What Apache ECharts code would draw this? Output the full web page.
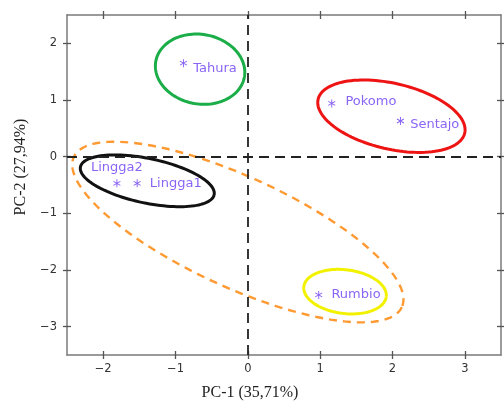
<!DOCTYPE html>
<html><head><meta charset="utf-8">
<script src="https://cdn.jsdelivr.net/npm/echarts@6/dist/echarts.min.js"></script>
<style>html,body{margin:0;padding:0;background:#fff}#c{width:504px;height:406px}</style>
</head><body><div id="c"></div>
<script>
// ---- data ----
const siteNames = ['Tahura', 'Pokomo', 'Sentajo', 'Lingga2', 'Lingga1', 'Rumbio'];
const pc1 = [-0.89, 1.16, 2.11, -1.81, -1.53, 0.98];
const pc2 = [1.65, 0.94, 0.63, -0.47, -0.47, -2.44];

const ellipseNames = ['Tahura', 'Pokomo-Sentajo', 'Lingga', 'Rumbio', 'Lingga-Rumbio'];
const ellipseCx = [-0.66, 1.985, -1.39, 1.344, -0.138];
const ellipseCy = [1.544, 0.714, -0.426, -2.382, -1.33];
const ellipseA = [0.622, 1.04, 0.944, 0.574, 2.494];   // semi-axis (PC-1 units)
const ellipseB = [0.614, 0.58, 0.393, 0.386, 0.974];   // semi-axis (PC-2 units)
const ellipseTilt = [10, 13, 11.8, 7, 24.6];           // degrees, clockwise on screen

const xTicks = [-2, -1, 0, 1, 2, 3];
const yTicks = [-3, -2, -1, 0, 1, 2];
const xTitle = 'PC-1 (35,71%)';
const yTitle = 'PC-2 (27,94%)';
const axisMin = { x: -2.5, y: -3.5 };
const axisMax = { x: 3.5, y: 2.5 };

// ---- styles ----
const ellipseStyle = [
  { color: '#1aad48', dash: null, width: 3 },
  { color: '#ee1414', dash: null, width: 3 },
  { color: '#111111', dash: null, width: 3 },
  { color: '#f2f200', dash: null, width: 3 },
  { color: '#ff9a33', dash: [8, 6], width: 2.4 }
];
const labelPlace = {
  Tahura:  { position: 'right', distance: 6, offset: [0, 5] },
  Pokomo:  { position: 'right', distance: 10, offset: [0, -2] },
  Sentajo: { position: 'right', distance: 6, offset: [0, 4] },
  Lingga2: { position: 'top', distance: 5, offset: [0, 0] },
  Lingga1: { position: 'right', distance: 9, offset: [0, 0] },
  Rumbio:  { position: 'right', distance: 9, offset: [0, 0] }
};
const pointColor = '#6b3df2';
const axisGray = '#7a7a7a';

function asteriskPath() {
  const L = 5, w = 0.6; let d = '';
  [0, 60, 120].forEach(deg => {
    const r = deg * Math.PI / 180;
    const dx = Math.sin(r), dy = -Math.cos(r), nx = Math.cos(r), ny = Math.sin(r);
    const p = [[L*dx + w*nx, L*dy + w*ny], [L*dx - w*nx, L*dy - w*ny], [-L*dx - w*nx, -L*dy - w*ny], [-L*dx + w*nx, -L*dy + w*ny]];
    d += 'M' + p.map(q => q[0].toFixed(3) + ',' + q[1].toFixed(3)).join('L') + 'Z';
  });
  return 'path://' + d;
}

const fmt = v => String(v).replace('-', '\u2212');

function xAx(position, inside, main) {
  return {
    type: 'value', position, min: axisMin.x, max: axisMax.x,
    splitLine: { show: false },
    axisLine: { show: main, onZero: false, lineStyle: { color: axisGray, width: 1.5 } },
    axisTick: { show: true, inside, length: 4, customValues: xTicks, lineStyle: { color: '#555', width: 1.3 } },
    axisLabel: { show: main && position === 'bottom', customValues: xTicks, formatter: fmt, margin: 8, color: '#333',
      fontFamily: 'DejaVu Sans', fontSize: 11.5 },
    name: (main && position === 'bottom') ? xTitle : '',
    nameLocation: 'middle', nameGap: 30,
    nameTextStyle: { fontFamily: 'Liberation Serif', fontSize: 16, color: '#222', padding: [0, 68, 0, 0] }
  };
}
function yAx(position, inside, main) {
  return {
    type: 'value', position, min: axisMin.y, max: axisMax.y,
    splitLine: { show: false },
    axisLine: { show: main, onZero: false, lineStyle: { color: axisGray, width: 1.5 } },
    axisTick: { show: true, inside, length: 4, customValues: yTicks, lineStyle: { color: '#555', width: 1.3 } },
    axisLabel: { show: main && position === 'left', customValues: yTicks, formatter: fmt, margin: 10, color: '#333',
      fontFamily: 'DejaVu Sans', fontSize: 11.5 },
    name: (main && position === 'left') ? yTitle : '',
    nameLocation: 'middle', nameGap: 37,
    nameTextStyle: { fontFamily: 'Liberation Serif', fontSize: 16, color: '#222', padding: [0, 0, 0, 36] }
  };
}

const ellipseData = ellipseNames.map((n, i) => ({
  name: n,
  value: [ellipseCx[i], ellipseCy[i], ellipseA[i], ellipseB[i], ellipseTilt[i], i]
}));

const pointData = siteNames.map((n, i) => {
  const lp = labelPlace[n];
  return {
    name: n, value: [pc1[i], pc2[i]],
    label: { show: true, position: lp.position, distance: lp.distance, offset: lp.offset }
  };
});

const chart = echarts.init(document.getElementById('c'), null, { renderer: 'canvas' });
chart.setOption({
  animation: false,
  backgroundColor: '#fff',
  grid: { left: 67, right: 3, top: 15, bottom: 50, containLabel: false },
  xAxis: [xAx('bottom', false, true), xAx('bottom', true, false), xAx('top', false, true), xAx('top', true, false)],
  yAxis: [yAx('left', false, true), yAx('left', true, false), yAx('right', false, true), yAx('right', true, false)],
  series: [
    {
      type: 'custom', name: 'ellipses', xAxisIndex: 0, yAxisIndex: 0,
      data: ellipseData, silent: true, clip: true,
      renderItem: function (params, api) {
        const c = api.coord([api.value(0), api.value(1)]);
        const s = api.size([api.value(2), api.value(3)]);
        const th = api.value(4) * Math.PI / 180;
        const st = ellipseStyle[api.value(5)];
        const pts = [];
        const N = 120;
        for (let k = 0; k <= N; k++) {
          const t = 2 * Math.PI * k / N;
          const ex = s[0] * Math.cos(t), ey = s[1] * Math.sin(t);
          pts.push([c[0] + ex * Math.cos(th) - ey * Math.sin(th), c[1] + ex * Math.sin(th) + ey * Math.cos(th)]);
        }
        return {
          type: 'polyline', shape: { points: pts },
          style: { fill: null, stroke: st.color, lineWidth: st.width, lineDash: st.dash }
        };
      }
    },
    {
      type: 'scatter', name: 'sites', xAxisIndex: 0, yAxisIndex: 0,
      data: pointData,
      symbol: asteriskPath(), symbolSize: 8, symbolKeepAspect: true,
      itemStyle: { color: pointColor },
      label: { color: pointColor, fontFamily: 'DejaVu Sans', fontSize: 13, formatter: p => p.name },
      markLine: {
        silent: true, symbol: ['none', 'none'], label: { show: false },
        lineStyle: { type: [10, 6], color: '#222', width: 1.8 },
        data: [{ xAxis: 0 }, { yAxis: 0 }]
      },
      z: 5
    }
  ]
});
</script>
</body></html>
